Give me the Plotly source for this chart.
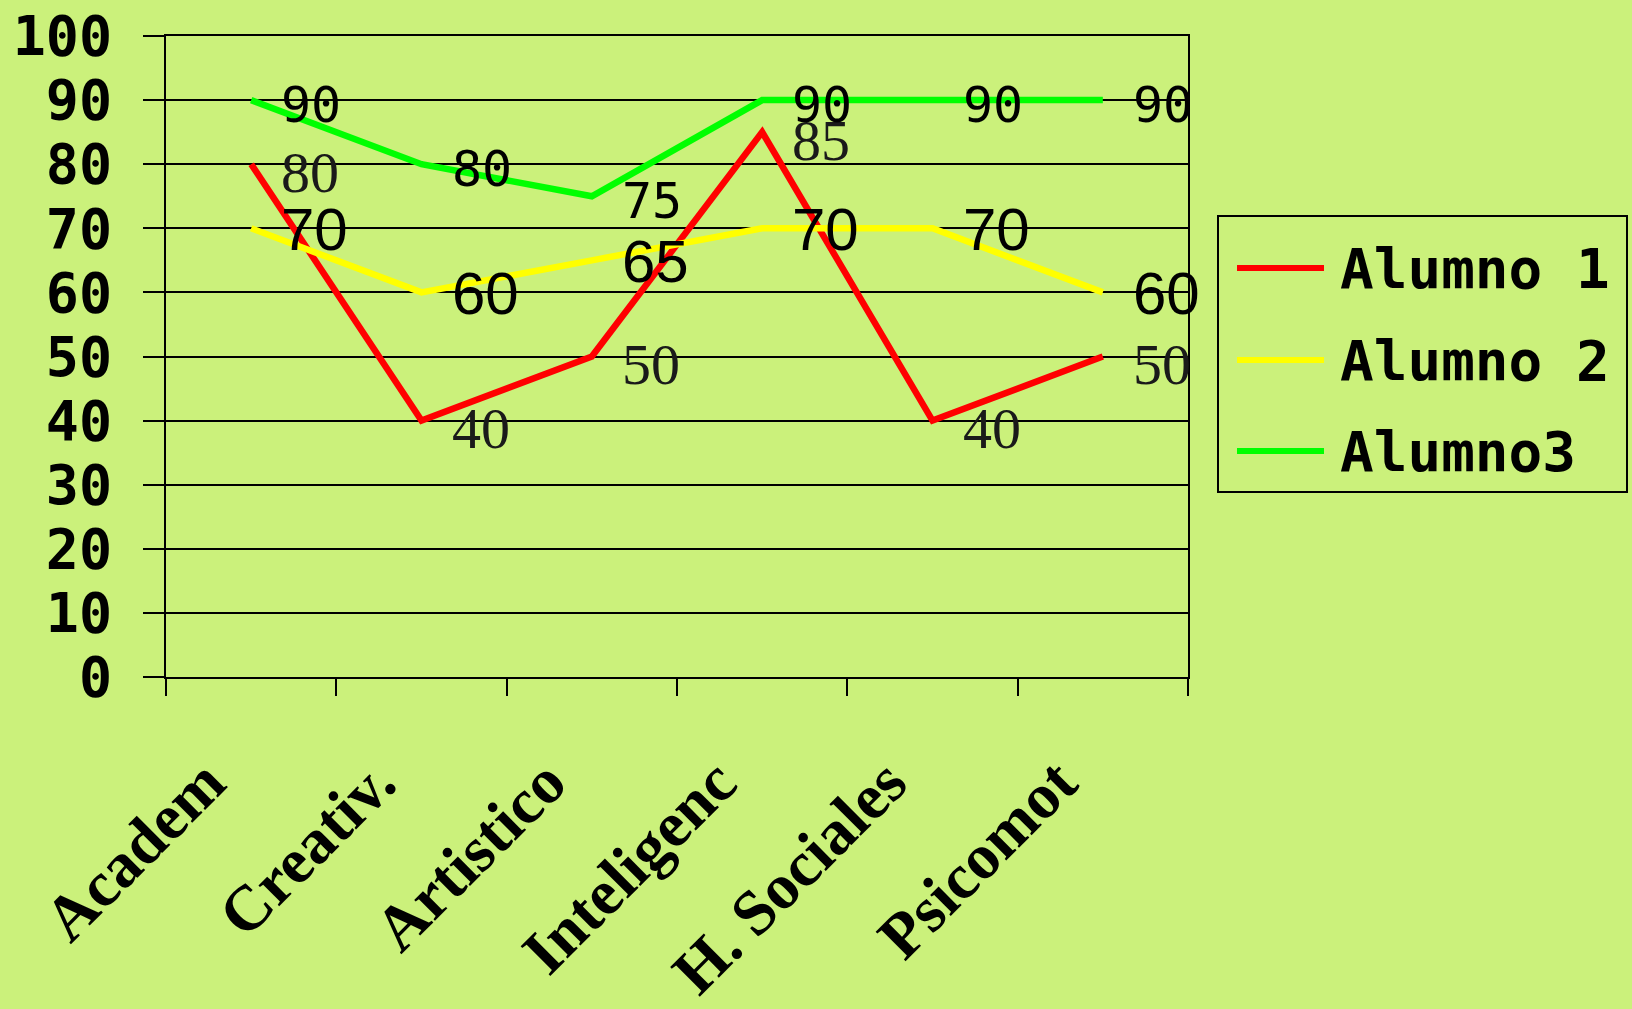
import plotly.graph_objects as go

# ---- data ----
categories = ["Academ", "Creativ.", "Artistico", "Inteligenc", "H. Sociales", "Psicomot"]
alumno1 = [80, 40, 50, 85, 40, 50]
alumno2 = [70, 60, 65, 70, 70, 60]
alumno3 = [90, 80, 75, 90, 90, 90]
series_names = ["Alumno 1", "Alumno 2", "Alumno3"]
series_colors = ["#ff0000", "#ffff00", "#00ff00"]
y_ticks = list(range(0, 101, 10))

W, H = 1632, 1009
ML, MR, MT, MB = 166, 444, 36, 332
BG = "#cbf17b"

label_styles = [
    dict(family="Liberation Serif", size=58, color="#1a1a1a"),
    dict(family="Liberation Sans", size=60, color="#000000"),
    dict(family="DejaVu Sans Mono", size=50, color="#000000"),
]
label_yshift = [-8, -1, -5]

fig = go.Figure()
all_series = [alumno1, alumno2, alumno3]
for name, vals, col in zip(series_names, all_series, series_colors):
    fig.add_trace(go.Scatter(x=categories, y=vals, mode="lines", name=name,
                             line=dict(color=col, width=6.5), showlegend=False))

annotations = []
for vals, st, ys in zip(all_series, label_styles, label_yshift):
    for c, v in zip(categories, vals):
        annotations.append(dict(x=c, y=v, xref="x", yref="y", text=str(v),
                                showarrow=False, xanchor="left", yanchor="middle",
                                xshift=28, yshift=ys, font=st))

# custom legend (pixel -> paper)
pw = W - ML - MR
ph = H - MT - MB
def px(x):
    return (x - ML) / pw
def py(y):
    return (H - MB - y) / ph

shapes = [dict(type="rect", xref="paper", yref="paper",
               x0=px(1218), x1=px(1627), y0=py(492), y1=py(216),
               line=dict(color="black", width=2), fillcolor="rgba(0,0,0,0)")]
leg_y = [268, 360, 451]
for name, col, yy in zip(series_names, series_colors, leg_y):
    shapes.append(dict(type="line", xref="paper", yref="paper",
                       x0=px(1237), x1=px(1324), y0=py(yy), y1=py(yy),
                       line=dict(color=col, width=6)))
    annotations.append(dict(x=px(1338), y=py(yy), xref="paper", yref="paper",
                            text=name, showarrow=False, xanchor="left", yanchor="middle",
                            font=dict(family="DejaVu Sans Mono", size=56, color="black", weight="bold")))

fig.update_layout(
    width=W, height=H,
    margin=dict(l=ML, r=MR, t=MT, b=MB, pad=0),
    paper_bgcolor=BG, plot_bgcolor=BG,
    shapes=shapes, annotations=annotations,
    showlegend=False,
)
fig.update_xaxes(
    type="category", categoryorder="array", categoryarray=categories,
    range=[-0.5, len(categories) - 0.5], automargin=False,
    tickson="boundaries", ticks="outside", ticklen=17, tickwidth=2, tickcolor="black",
    showgrid=False, showline=True, linecolor="black", linewidth=2, mirror=True,
    tickangle=-45, ticklabelshift=-45, ticklabelstandoff=40,
    tickfont=dict(family="Liberation Serif", size=64, color="black", weight="bold"),
)
fig.update_yaxes(
    range=[0, 100], tickvals=y_ticks, ticktext=[str(t) for t in y_ticks],
    automargin=False,
    ticks="outside", ticklen=21, tickwidth=2, tickcolor="black",
    showgrid=True, gridcolor="black", gridwidth=2,
    showline=True, linecolor="black", linewidth=2, mirror=True, zeroline=False,
    tickfont=dict(family="DejaVu Sans Mono", size=55, color="black", weight="bold"),
    ticklabelstandoff=20,
)

fig.write_html("out.html", config={"displayModeBar": False},
               post_script="document.body.style.margin='0';")
